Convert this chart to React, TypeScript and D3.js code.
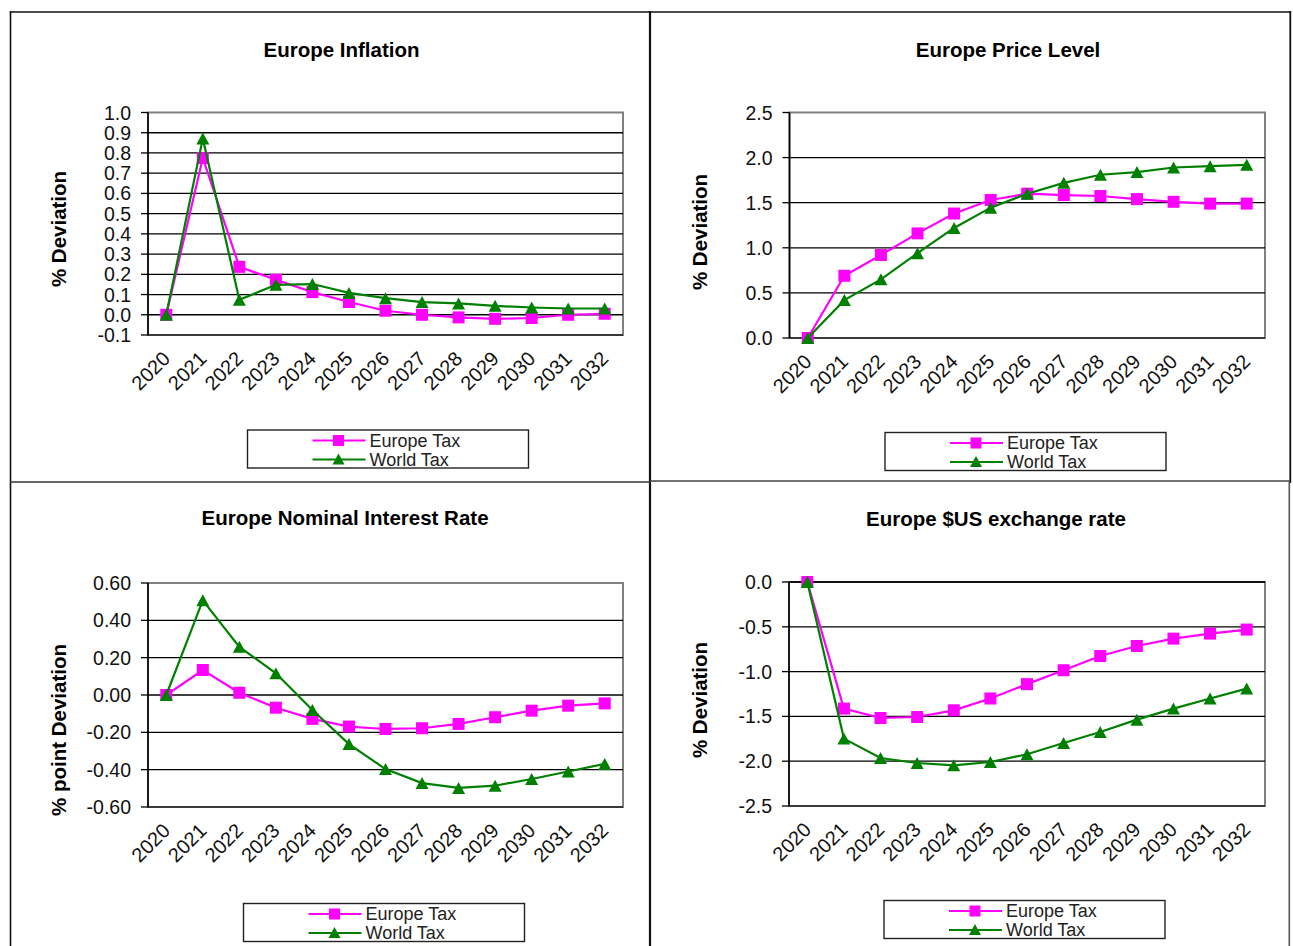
import React from 'react';
import * as d3 from 'd3';

const years = ['2020', '2021', '2022', '2023', '2024', '2025', '2026', '2027', '2028', '2029', '2030', '2031', '2032'];
const seriesNames = ['Europe Tax', 'World Tax'];

const inflationEurope = [0, 0.775, 0.237, 0.173, 0.112, 0.063, 0.02, 0.0, -0.013, -0.02, -0.016, 0.0, 0.005];
const inflationWorld = [0, 0.872, 0.074, 0.148, 0.152, 0.108, 0.082, 0.063, 0.056, 0.044, 0.036, 0.031, 0.031];

const priceEurope = [0, 0.69, 0.92, 1.16, 1.38, 1.53, 1.6, 1.585, 1.574, 1.54, 1.51, 1.49, 1.49];
const priceWorld = [0, 0.42, 0.65, 0.94, 1.22, 1.445, 1.6, 1.72, 1.81, 1.84, 1.89, 1.905, 1.92];

const interestEurope = [0, 0.134, 0.012, -0.068, -0.128, -0.169, -0.182, -0.178, -0.155, -0.119, -0.084, -0.057, -0.045];
const interestWorld = [0, 0.507, 0.258, 0.116, -0.08, -0.263, -0.397, -0.472, -0.498, -0.486, -0.45, -0.41, -0.369];

const exchangeEurope = [0, -1.413, -1.518, -1.507, -1.432, -1.3, -1.14, -0.985, -0.826, -0.714, -0.632, -0.576, -0.531];
const exchangeWorld = [0, -1.748, -1.964, -2.02, -2.046, -2.009, -1.923, -1.797, -1.674, -1.536, -1.413, -1.3, -1.19];

const inflationTicks = [-0.1, 0, 0.1, 0.2, 0.3, 0.4, 0.5, 0.6, 0.7, 0.8, 0.9, 1.0];
const priceTicks = [0, 0.5, 1.0, 1.5, 2.0, 2.5];
const interestTicks = [-0.6, -0.4, -0.2, 0, 0.2, 0.4, 0.6];
const exchangeTicks = [-2.5, -2.0, -1.5, -1.0, -0.5, 0];

const MAGENTA = '#FF00FF';
const GREEN = '#008000';
const FONT = "'Liberation Sans', Arial, Helvetica, sans-serif";

const locale = d3.formatLocale({ decimal: '.', thousands: ',', grouping: [3], currency: ['$', ''], minus: '-' });

type PanelCfg = {
  title: string;
  titleX: number;
  titleY: number;
  yTitle: string;
  yTitleX: number;
  yTitleY: number;
  left: number;
  right: number;
  top: number;
  bottom: number;
  ticks: number[];
  fmt: string;
  europe: number[];
  world: number[];
  legendX: number;
  legendY: number;
  topBlack?: boolean;
};

const panels: PanelCfg[] = [
  {
    title: 'Europe Inflation', titleX: 341.5, titleY: 57,
    yTitle: '% Deviation', yTitleX: 58, yTitleY: 229,
    left: 148, right: 623, top: 112.5, bottom: 335,
    ticks: inflationTicks, fmt: '.1f',
    europe: inflationEurope, world: inflationWorld,
    legendX: 247.5, legendY: 430,
  },
  {
    title: 'Europe Price Level', titleX: 1008, titleY: 57,
    yTitle: '% Deviation', yTitleX: 699, yTitleY: 232,
    left: 789.5, right: 1265, top: 112.5, bottom: 338,
    ticks: priceTicks, fmt: '.1f',
    europe: priceEurope, world: priceWorld,
    legendX: 885, legendY: 432.5,
  },
  {
    title: 'Europe Nominal Interest Rate', titleX: 345, titleY: 525,
    yTitle: '% point Deviation', yTitleX: 58, yTitleY: 730,
    left: 148, right: 623, top: 583, bottom: 807,
    ticks: interestTicks, fmt: '.2f',
    europe: interestEurope, world: interestWorld,
    legendX: 243.5, legendY: 903.5,
  },
  {
    title: 'Europe $US exchange rate', titleX: 996, titleY: 526,
    yTitle: '% Deviation', yTitleX: 699, yTitleY: 700,
    left: 789, right: 1265, top: 582, bottom: 806,
    ticks: exchangeTicks, fmt: '.1f',
    europe: exchangeEurope, world: exchangeWorld,
    legendX: 884, legendY: 900.5, topBlack: true,
  },
];

function tri(cx: number, cy: number, w: number, h: number) {
  return `M${cx},${cy - h / 2}L${cx + w / 2},${cy + h / 2}L${cx - w / 2},${cy + h / 2}Z`;
}

function Panel({ cfg }: { cfg: PanelCfg }) {
  const x = d3.scalePoint<string>().domain(years).range([cfg.left, cfg.right]).padding(0.5);
  const yMin = cfg.ticks[0];
  const yMax = cfg.ticks[cfg.ticks.length - 1];
  const y = d3.scaleLinear().domain([yMin, yMax]).range([cfg.bottom, cfg.top]);
  const fmt = locale.format(cfg.fmt);
  const line = d3.line<number>().x((_, i) => x(years[i]) as number).y((d) => y(d));
  const inner = cfg.ticks.slice(1, cfg.ticks.length - 1);
  const lx = cfg.legendX;
  const ly = cfg.legendY;

  return (
    <g>
      <text x={cfg.titleX} y={cfg.titleY} textAnchor="middle" fontFamily={FONT} fontWeight="bold" fontSize={20.5} fill="#000">
        {cfg.title}
      </text>
      <text
        transform={`translate(${cfg.yTitleX},${cfg.yTitleY}) rotate(-90)`}
        textAnchor="middle"
        dominantBaseline="central"
        fontFamily={FONT}
        fontWeight="bold"
        fontSize={20.5}
        fill="#000"
      >
        {cfg.yTitle}
      </text>
      <rect x={cfg.left} y={cfg.top} width={cfg.right - cfg.left} height={cfg.bottom - cfg.top} fill="#fff" stroke="#808080" strokeWidth={2} />
      {inner.map((t) => (
        <line key={t} x1={cfg.left} x2={cfg.right} y1={y(t)} y2={y(t)} stroke="#000" strokeWidth={1.3} />
      ))}
      {cfg.topBlack && <line x1={cfg.left} x2={cfg.right} y1={cfg.top} y2={cfg.top} stroke="#111" strokeWidth={1.8} />}
      <line x1={cfg.left} x2={cfg.right} y1={cfg.bottom} y2={cfg.bottom} stroke="#222" strokeWidth={1.6} />
      <line x1={cfg.left} x2={cfg.left} y1={cfg.top} y2={cfg.bottom} stroke="#000" strokeWidth={1.6} />
      {cfg.ticks.map((t) => (
        <g key={'t' + t}>
          <line x1={cfg.left - 7} x2={cfg.left} y1={y(t)} y2={y(t)} stroke="#000" strokeWidth={1.3} />
          <text x={cfg.left - 17} y={y(t)} dy="0.36em" textAnchor="end" fontFamily={FONT} fontSize={19.5} fill="#111">
            {fmt(t)}
          </text>
        </g>
      ))}
      {years.map((yr) => (
        <text
          key={yr}
          transform={`translate(${(x(yr) as number) + 5},${cfg.bottom + 25}) rotate(-45)`}
          textAnchor="end"
          fontFamily={FONT}
          fontSize={20}
          fill="#111"
        >
          {yr}
        </text>
      ))}
      <path d={line(cfg.europe) || ''} fill="none" stroke={MAGENTA} strokeWidth={2.2} />
      {cfg.europe.map((v, i) => (
        <rect key={'e' + i} x={(x(years[i]) as number) - 6} y={y(v) - 6} width={12} height={12} fill={MAGENTA} />
      ))}
      <path d={line(cfg.world) || ''} fill="none" stroke={GREEN} strokeWidth={2.2} />
      {cfg.world.map((v, i) => (
        <path key={'w' + i} d={tri(x(years[i]) as number, y(v), 13, 12)} fill={GREEN} />
      ))}
      <rect x={lx} y={ly} width={281} height={38} fill="#fff" stroke="#222" strokeWidth={1.4} />
      {seriesNames.map((name, i) => {
        const ry = ly + 10.5 + i * 19;
        const color = i === 0 ? MAGENTA : GREEN;
        return (
          <g key={name}>
            <line x1={lx + 65} x2={lx + 118} y1={ry} y2={ry} stroke={color} strokeWidth={2.2} />
            {i === 0 ? (
              <rect x={lx + 91 - 5.5} y={ry - 5.5} width={11} height={11} fill={MAGENTA} />
            ) : (
              <path d={tri(lx + 91, ry - 0.5, 12, 11)} fill={GREEN} />
            )}
            <text x={lx + 122} y={ry} dy="0.36em" fontFamily={FONT} fontSize={18} fill="#222">
              {name}
            </text>
          </g>
        );
      })}
    </g>
  );
}

export default function App() {
  return (
    <svg width={1293} height={946} style={{ position: 'absolute', left: 0, top: 0, background: '#fff' }}>
      <rect x={0} y={0} width={1293} height={946} fill="#fff" />
      {panels.map((p) => (
        <Panel key={p.title} cfg={p} />
      ))}
      <line x1={10} x2={1291} y1={12} y2={12} stroke="#111" strokeWidth={1.6} />
      <line x1={10.5} x2={10.5} y1={11} y2={946} stroke="#111" strokeWidth={1.6} />
      <line x1={650} x2={650} y1={11} y2={946} stroke="#111" strokeWidth={2.2} />
      <line x1={10} x2={650} y1={482} y2={482} stroke="#333" strokeWidth={1.6} />
      <line x1={650} x2={1290} y1={481} y2={481} stroke="#444" strokeWidth={1.6} />
      <line x1={1290.3} x2={1290.3} y1={11} y2={483} stroke="#111" strokeWidth={1.8} />
      <line x1={1289.3} x2={1289.3} y1={481} y2={946} stroke="#555" strokeWidth={1.6} />
    </svg>
  );
}
